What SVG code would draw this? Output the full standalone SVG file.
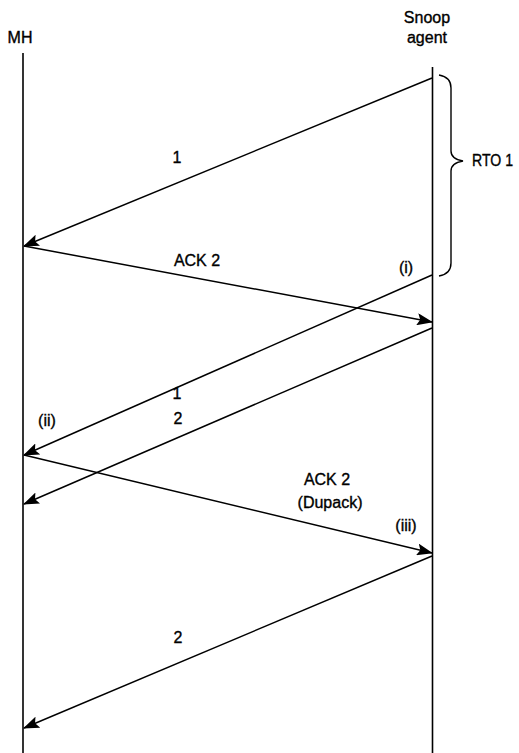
<svg xmlns="http://www.w3.org/2000/svg" width="519" height="753" viewBox="0 0 519 753">
  <style>
    .lbl { font-family: "Liberation Sans", Arial, sans-serif; font-size: 16px; fill: #000; stroke: #000; stroke-width: 0.35; }
    .mid { text-anchor: middle; }
    .life { stroke: #000; stroke-width: 1.6; fill: none; }
    .msg { stroke: #000; stroke-width: 1.5; fill: none; marker-end: url(#head); }
    .brace { stroke: #000; stroke-width: 1.4; fill: none; }
  </style>
  <defs>
    <marker id="head" markerUnits="userSpaceOnUse" markerWidth="16" markerHeight="12" viewBox="0 0 16 12" refX="15" refY="6" orient="auto">
      <path d="M0,0 L16,6 L0,12 L3,6 Z" fill="#000"/>
    </marker>
  </defs>

  <rect width="519" height="753" fill="#fff"/>

  <!-- participants -->
  <g id="mh">
    <text class="lbl mid" x="20" y="43">MH</text>
    <line class="life" x1="23" y1="53" x2="23" y2="753"/>
  </g>
  <g id="snoop">
    <text class="lbl mid" x="427" y="23">Snoop</text>
    <text class="lbl mid" x="427" y="43">agent</text>
    <line class="life" x1="432.5" y1="67" x2="432.5" y2="753"/>
  </g>

  <!-- retransmission timeout bracket -->
  <g id="rto">
    <path class="brace" d="M439,75 Q451,77 451,88 L451,151 Q451,159 463,161 Q451,163 451,171 L451,263 Q451,274 439,276"/>
    <text class="lbl" x="472" y="166" textLength="41" lengthAdjust="spacingAndGlyphs">RTO 1</text>
  </g>

  <!-- messages -->
  <g id="connectors">
    <line class="msg" x1="432" y1="78" x2="24" y2="246"/>
    <line class="msg" x1="24" y1="246" x2="432" y2="322"/>
    <line class="msg" x1="432" y1="275" x2="24" y2="455"/>
    <line class="msg" x1="432" y1="328" x2="24" y2="504"/>
    <line class="msg" x1="24" y1="455" x2="432" y2="553"/>
    <line class="msg" x1="432" y1="556" x2="24" y2="728"/>
  </g>

  <!-- message labels -->
  <g id="labels">
    <text class="lbl mid" x="177" y="163">1</text>
    <text class="lbl mid" x="197" y="266">ACK 2</text>
    <text class="lbl mid" x="406" y="273">(i)</text>
    <text class="lbl mid" x="177" y="399">1</text>
    <text class="lbl mid" x="178" y="424">2</text>
    <text class="lbl mid" x="47" y="426">(ii)</text>
    <text class="lbl mid" x="327" y="485">ACK 2</text>
    <text class="lbl mid" x="330" y="508">(Dupack)</text>
    <text class="lbl mid" x="406" y="531">(iii)</text>
    <text class="lbl mid" x="178" y="643">2</text>
  </g>
</svg>
